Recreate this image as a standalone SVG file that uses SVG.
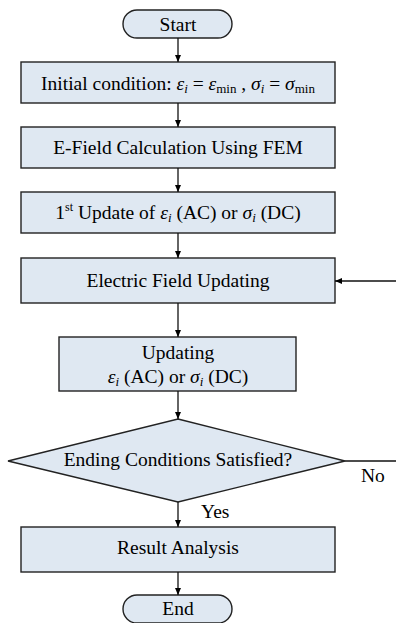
<svg xmlns="http://www.w3.org/2000/svg" width="396" height="623" viewBox="0 0 396 623">
<defs>
<marker id="ah" markerWidth="7" markerHeight="8" refX="7" refY="4" orient="auto" markerUnits="userSpaceOnUse">
<path d="M0,1 L7,4 L0,7 Z" fill="#000"/>
</marker>
<style>
.n{fill:#dfe8f2;stroke:#222;stroke-width:1.4}
.t{font-family:"Liberation Serif","Times New Roman",serif;font-size:19.5px;fill:#000;text-anchor:middle}
.l{font-family:"Liberation Serif","Times New Roman",serif;font-size:19.5px;fill:#000}
.c{stroke:#111;stroke-width:1.3;fill:none}
.i{font-style:italic}
.s{font-size:13px}
</style>
</defs>
<rect width="396" height="623" fill="#fff"/>
<g id="start"><rect class="n" x="123" y="10" width="109" height="28" rx="14"/><text class="t" x="178" y="31">Start</text></g>
<g id="init"><rect class="n" x="21" y="62" width="314" height="41"/><text class="t" x="178" y="90">Initial condition: <tspan class="i">ε</tspan><tspan class="i s" dy="3">i</tspan><tspan dy="-3"> = </tspan><tspan class="i">ε</tspan><tspan class="s" dy="3">min</tspan><tspan dy="-3"> , </tspan><tspan class="i">σ</tspan><tspan class="i s" dy="3">i</tspan><tspan dy="-3"> = </tspan><tspan class="i">σ</tspan><tspan class="s" dy="3">min</tspan></text></g>
<g id="efield"><rect class="n" x="21" y="127" width="314" height="41"/><text class="t" x="178" y="154">E-Field Calculation Using FEM</text></g>
<g id="first"><rect class="n" x="21" y="192" width="314" height="41"/><text class="t" x="178" y="219">1<tspan font-size="12" dy="-8">st</tspan><tspan dy="8"> Update of </tspan><tspan class="i">ε</tspan><tspan class="i s" dy="3">i</tspan><tspan dy="-3"> (AC) or </tspan><tspan class="i">σ</tspan><tspan class="i s" dy="3">i</tspan><tspan dy="-3"> (DC)</tspan></text></g>
<g id="eupdate"><rect class="n" x="21" y="258" width="314" height="45"/><text class="t" x="178" y="287">Electric Field Updating</text></g>
<g id="updating"><rect class="n" x="59" y="337" width="237" height="54"/><text class="t" x="178" y="359">Updating</text><text class="t" x="178" y="383"><tspan class="i">ε</tspan><tspan class="i s" dy="3">i</tspan><tspan dy="-3"> (AC) or </tspan><tspan class="i">σ</tspan><tspan class="i s" dy="3">i</tspan><tspan dy="-3"> (DC)</tspan></text></g>
<g id="ending"><polygon class="n" points="178,419 345,461 178,502 8,461"/><text class="t" x="178" y="466">Ending Conditions Satisfied?</text></g>
<g id="result"><rect class="n" x="21" y="527" width="314" height="45"/><text class="t" x="178" y="554">Result Analysis</text></g>
<g id="end"><rect class="n" x="123" y="595" width="109" height="28" rx="14"/><text class="t" x="178" y="615">End</text></g>
<g id="connectors">
<line class="c" x1="178" y1="38" x2="178" y2="62" marker-end="url(#ah)"/>
<line class="c" x1="178" y1="103" x2="178" y2="127" marker-end="url(#ah)"/>
<line class="c" x1="178" y1="168" x2="178" y2="192" marker-end="url(#ah)"/>
<line class="c" x1="178" y1="233" x2="178" y2="258" marker-end="url(#ah)"/>
<line class="c" x1="178" y1="303" x2="178" y2="337" marker-end="url(#ah)"/>
<line class="c" x1="178" y1="391" x2="178" y2="419" marker-end="url(#ah)"/>
<line class="c" x1="178" y1="502" x2="178" y2="527" marker-end="url(#ah)"/>
<line class="c" x1="178" y1="572" x2="178" y2="595" marker-end="url(#ah)"/>
<line class="c" x1="345" y1="461" x2="396" y2="461"/>
<line class="c" x1="396" y1="281" x2="335" y2="281" marker-end="url(#ah)"/>
<text class="l" x="361" y="482">No</text>
<text class="l" x="201" y="518">Yes</text>
</g>
</svg>
